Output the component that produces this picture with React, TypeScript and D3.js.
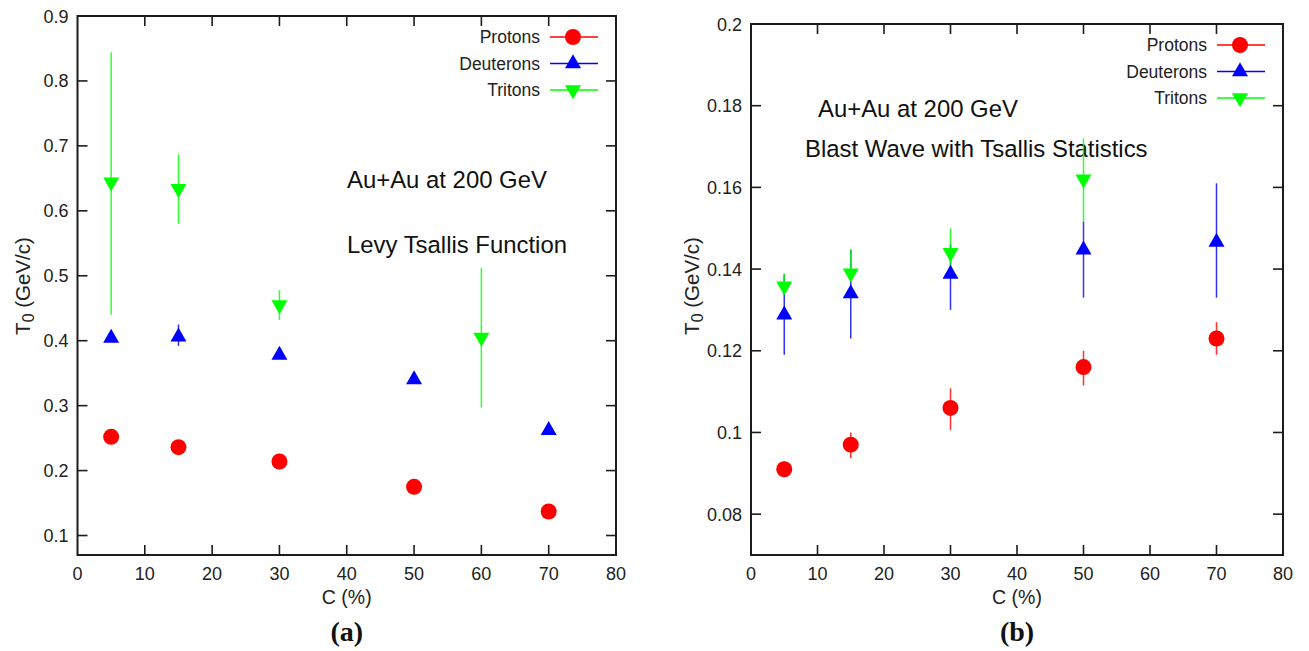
import * as d3 from "d3";

// ── data ────────────────────────────────────────────────────────────────────
const A_PROTON_X = [5, 15, 30, 50, 70];
const A_PROTON_Y = [0.252, 0.236, 0.214, 0.175, 0.137];
const A_PROTON_LO = [0.252, 0.236, 0.214, 0.175, 0.137];
const A_PROTON_HI = [0.252, 0.236, 0.214, 0.175, 0.137];

const A_DEUT_X = [5, 15, 30, 50, 70];
const A_DEUT_Y = [0.404, 0.406, 0.378, 0.34, 0.262];
const A_DEUT_LO = [0.404, 0.392, 0.378, 0.34, 0.262];
const A_DEUT_HI = [0.404, 0.425, 0.378, 0.34, 0.262];

const A_TRIT_X = [5, 15, 30, 60];
const A_TRIT_Y = [0.644, 0.634, 0.455, 0.405];
const A_TRIT_LO = [0.44, 0.58, 0.432, 0.297];
const A_TRIT_HI = [0.844, 0.687, 0.478, 0.512];

const B_PROTON_X = [5, 15, 30, 50, 70];
const B_PROTON_Y = [0.091, 0.097, 0.106, 0.116, 0.123];
const B_PROTON_LO = [0.0905, 0.0937, 0.1006, 0.1115, 0.119];
const B_PROTON_HI = [0.093, 0.1, 0.1108, 0.12, 0.127];

const B_DEUT_X = [5, 15, 30, 50, 70];
const B_DEUT_Y = [0.1288, 0.134, 0.1388, 0.1447, 0.1466];
const B_DEUT_LO = [0.119, 0.123, 0.13, 0.133, 0.133];
const B_DEUT_HI = [0.1386, 0.1447, 0.146, 0.1516, 0.161];

const B_TRIT_X = [5, 15, 30, 50];
const B_TRIT_Y = [0.1358, 0.139, 0.144, 0.162];
const B_TRIT_LO = [0.134, 0.1375, 0.139, 0.1516];
const B_TRIT_HI = [0.139, 0.1449, 0.15, 0.172];

const X_TICKS = [0, 10, 20, 30, 40, 50, 60, 70, 80];
const A_Y_TICKS = [0.1, 0.2, 0.3, 0.4, 0.5, 0.6, 0.7, 0.8, 0.9];
const B_Y_TICKS = [0.08, 0.1, 0.12, 0.14, 0.16, 0.18, 0.2];

const SERIES_NAMES = ["Protons", "Deuterons", "Tritons"];
const SERIES_COLORS = ["#ff0000", "#0000ff", "#00ff00"];
const SERIES_SHAPES = ["circle", "up", "down"];

// ── layout ──────────────────────────────────────────────────────────────────
const W = 1309;
const H = 651;
const FONT = "'Liberation Sans', Arial, Helvetica, sans-serif";
const SERIF = "'Liberation Serif', 'Times New Roman', serif";
const FRAME = "#1c1c1c";

type Series = { x: number[]; y: number[]; lo: number[]; hi: number[] };

const PANELS = [
  {
    box: { left: 77.5, right: 616, top: 16, bottom: 555 },
    yDomain: [0.07, 0.9],
    yTicks: A_Y_TICKS,
    yFmt: (v: number) => d3.format(".1f")(v),
    series: [
      { x: A_PROTON_X, y: A_PROTON_Y, lo: A_PROTON_LO, hi: A_PROTON_HI },
      { x: A_DEUT_X, y: A_DEUT_Y, lo: A_DEUT_LO, hi: A_DEUT_HI },
      { x: A_TRIT_X, y: A_TRIT_Y, lo: A_TRIT_LO, hi: A_TRIT_HI },
    ] as Series[],
    notes: [
      { text: "Au+Au at 200 GeV", x: 347, y: 188 },
      { text: "Levy Tsallis Function", x: 347, y: 253 },
    ],
    yLabelX: 30,
    tag: "(a)",
  },
  {
    box: { left: 751, right: 1283, top: 24, bottom: 555 },
    yDomain: [0.07, 0.2],
    yTicks: B_Y_TICKS,
    yFmt: (v: number) => String(+v.toFixed(2)),
    series: [
      { x: B_PROTON_X, y: B_PROTON_Y, lo: B_PROTON_LO, hi: B_PROTON_HI },
      { x: B_DEUT_X, y: B_DEUT_Y, lo: B_DEUT_LO, hi: B_DEUT_HI },
      { x: B_TRIT_X, y: B_TRIT_Y, lo: B_TRIT_LO, hi: B_TRIT_HI },
    ] as Series[],
    notes: [
      { text: "Au+Au at 200 GeV", x: 818, y: 117 },
      { text: "Blast Wave with Tsallis Statistics", x: 805, y: 157 },
    ],
    yLabelX: 699,
    tag: "(b)",
  },
];

function Marker({ shape, cx, cy, color }: { shape: string; cx: number; cy: number; color: string }) {
  if (shape === "circle") return <circle cx={cx} cy={cy} r={8} fill={color} />;
  // triangles, centroid on the data point
  const hw = 8, up = 9.3, dn = 4.7;
  const d =
    shape === "up"
      ? `M${cx},${cy - up}L${cx + hw},${cy + dn}L${cx - hw},${cy + dn}Z`
      : `M${cx},${cy + up}L${cx + hw},${cy - dn}L${cx - hw},${cy - dn}Z`;
  return <path d={d} fill={color} />;
}

function Panel({ p }: { p: (typeof PANELS)[number] }) {
  const { box } = p;
  const x = d3.scaleLinear().domain([0, 80]).range([box.left, box.right]);
  const y = d3.scaleLinear().domain(p.yDomain).range([box.bottom, box.top]);
  const TICK = 10;
  const cx = (box.left + box.right) / 2;
  const cyMid = 286;

  return (
    <g>
      {/* ticks, mirrored on all four sides */}
      {X_TICKS.slice(1, -1).map((t) => (
        <g key={"xt" + t} stroke={FRAME} strokeWidth={1.6}>
          <line x1={x(t)} x2={x(t)} y1={box.bottom} y2={box.bottom - TICK} />
          <line x1={x(t)} x2={x(t)} y1={box.top} y2={box.top + TICK} />
        </g>
      ))}
      {p.yTicks.filter((t) => t < p.yDomain[1] - 1e-9).map((t) => (
        <g key={"yt" + t} stroke={FRAME} strokeWidth={1.6}>
          <line x1={box.left} x2={box.left + TICK} y1={y(t)} y2={y(t)} />
          <line x1={box.right} x2={box.right - TICK} y1={y(t)} y2={y(t)} />
        </g>
      ))}
      <rect
        x={box.left}
        y={box.top}
        width={box.right - box.left}
        height={box.bottom - box.top}
        fill="none"
        stroke={FRAME}
        strokeWidth={2}
      />

      {/* tick labels */}
      {X_TICKS.map((t) => (
        <text key={"xl" + t} x={x(t)} y={box.bottom + 25} textAnchor="middle" fontSize={18} fill="#222">
          {t}
        </text>
      ))}
      {p.yTicks.map((t) => (
        <text key={"yl" + t} x={box.left - 9} y={y(t) + 6.5} textAnchor="end" fontSize={18} fill="#222">
          {p.yFmt(t)}
        </text>
      ))}

      {/* axis titles */}
      <text x={cx} y={604} textAnchor="middle" fontSize={19.5} fill="#222">
        C (%)
      </text>
      <text
        transform={`translate(${p.yLabelX},${cyMid}) rotate(-90)`}
        textAnchor="middle"
        fontSize={20.5}
        fill="#222"
      >
        T<tspan dy={4} fontSize={16}>0</tspan>
        <tspan dy={-4}> (GeV/c)</tspan>
      </text>

      {/* annotations */}
      {p.notes.map((n) => (
        <text key={n.text} x={n.x} y={n.y} fontSize={23.9} fill="#111">
          {n.text}
        </text>
      ))}

      {/* data: error bars then markers */}
      {p.series.map((s, si) => (
        <g key={"s" + si}>
          {s.x.map((xv, i) =>
            s.hi[i] > s.lo[i] ? (
              <line
                key={"e" + i}
                x1={x(xv)}
                x2={x(xv)}
                y1={y(s.lo[i])}
                y2={y(s.hi[i])}
                stroke={SERIES_COLORS[si]}
                strokeWidth={1.5}
                opacity={0.8}
              />
            ) : null
          )}
        </g>
      ))}
      {p.series.map((s, si) => (
        <g key={"m" + si}>
          {s.x.map((xv, i) => (
            <Marker key={i} shape={SERIES_SHAPES[si]} cx={x(xv)} cy={y(s.y[i])} color={SERIES_COLORS[si]} />
          ))}
        </g>
      ))}

      {/* legend */}
      {SERIES_NAMES.map((name, i) => {
        const ly = box.top + 21 + i * 26.5;
        return (
          <g key={name}>
            <text x={box.right - 76} y={ly + 6} textAnchor="end" fontSize={17.5} fill="#222">
              {name}
            </text>
            <line
              x1={box.right - 66}
              x2={box.right - 18}
              y1={ly}
              y2={ly}
              stroke={SERIES_COLORS[i]}
              strokeWidth={1.5}
            />
            <Marker shape={SERIES_SHAPES[i]} cx={box.right - 43} cy={ly} color={SERIES_COLORS[i]} />
          </g>
        );
      })}

      {/* panel tag */}
      <text x={cx} y={641} textAnchor="middle" fontSize={28} fontWeight="bold" fontFamily={SERIF} fill="#111">
        {p.tag}
      </text>
    </g>
  );
}

export default function App() {
  return (
    <div style={{ position: "absolute", left: 0, top: 0 }}>
      <svg width={W} height={H} viewBox={`0 0 ${W} ${H}`} style={{ display: "block", background: "#fff" }} fontFamily={FONT}>
        {PANELS.map((p) => (
          <Panel key={p.tag} p={p} />
        ))}
      </svg>
    </div>
  );
}
